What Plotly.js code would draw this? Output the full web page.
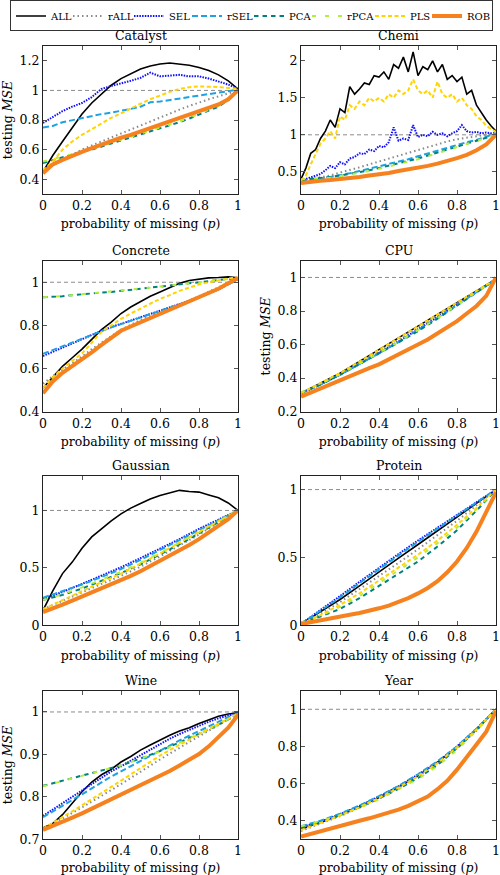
<!DOCTYPE html>
<html><head><meta charset="utf-8">
<script src="https://cdn.plot.ly/plotly-3.0.1.min.js"></script>
<style>html,body{margin:0;padding:0;background:#fff}</style>
</head><body><div id="chart" style="width:500px;height:875px"></div>
<script>
// ---------- data ----------
const X11 = [0,0.1,0.2,0.3,0.4,0.5,0.6,0.7,0.8,0.9,1];
const X21 = [0,0.05,0.1,0.15,0.2,0.25,0.3,0.35,0.4,0.45,0.5,0.55,0.6,0.65,0.7,0.75,0.8,0.85,0.9,0.95,1];
const X41 = [0,0.025,0.05,0.075,0.1,0.125,0.15,0.175,0.2,0.225,0.25,0.275,0.3,0.325,0.35,0.375,0.4,0.425,0.45,0.475,0.5,0.525,0.55,0.575,0.6,0.625,0.65,0.675,0.7,0.725,0.75,0.775,0.8,0.825,0.85,0.875,0.9,0.925,0.95,0.975,1];
const methods = ['ALL','rALL','SEL','rSEL','PCA','rPCA','PLS','ROB'];
const datasets = ['Catalyst','Chemi','Concrete','CPU','Gaussian','Protein','Wine','Year'];
const xTicks = [0,0.2,0.4,0.6,0.8,1];
const catTicks = [0.4,0.6,0.8,1,1.2];
const cheTicks = [0.5,1,1.5,2];
const conTicks = [0.4,0.6,0.8,1];
const cpuTicks = [0.2,0.4,0.6,0.8,1];
const gauTicks = [0,0.5,1];
const proTicks = [0,0.5,1];
const winTicks = [0.7,0.8,0.9,1];
const yeaTicks = [0.4,0.6,0.8,1];

// Catalyst
const cat_ALL  = [0.45,0.56,0.655,0.75,0.84,0.915,0.975,1.035,1.08,1.115,1.145,1.165,1.178,1.185,1.18,1.17,1.155,1.135,1.105,1.065,1.01];
const cat_rALL = [0.46,0.5,0.53,0.565,0.6,0.628,0.655,0.683,0.71,0.738,0.765,0.793,0.82,0.845,0.87,0.895,0.92,0.94,0.96,0.98,1.0];
const cat_SEL  = [0.78,0.82,0.86,0.89,0.915,0.955,1.01,1.03,1.045,1.065,1.085,1.12,1.095,1.1,1.105,1.095,1.095,1.08,1.06,1.04,1.01];
const cat_rSEL = [0.75,0.76,0.785,0.8,0.81,0.825,0.84,0.85,0.86,0.875,0.89,0.92,0.925,0.935,0.945,0.955,0.965,0.975,0.985,0.995,1.005];
const cat_PCA  = [0.51,0.53,0.55,0.565,0.585,0.6,0.62,0.64,0.665,0.685,0.705,0.725,0.745,0.765,0.785,0.81,0.835,0.86,0.89,0.935,1.0];
const cat_rPCA = [0.52,0.535,0.55,0.565,0.585,0.605,0.625,0.645,0.665,0.685,0.705,0.725,0.745,0.77,0.79,0.815,0.84,0.865,0.895,0.94,1.0];
const cat_PLS  = [0.46,0.52,0.6,0.655,0.7,0.74,0.78,0.815,0.845,0.88,0.91,0.94,0.967,0.99,1.01,1.022,1.027,1.027,1.023,1.017,1.01];
const cat_ROB  = [0.44,0.5,0.53,0.56,0.585,0.61,0.635,0.657,0.68,0.7,0.722,0.745,0.767,0.79,0.81,0.833,0.856,0.88,0.905,0.94,1.0];
// Chemi
const che_ALL  = [0.40,0.55,0.75,0.8,0.95,1.05,1.2,1.1,1.35,1.3,1.65,1.55,1.62,1.7,1.68,1.8,1.78,1.85,1.75,1.95,1.9,2.05,1.85,2.12,1.8,1.92,1.88,2.0,1.85,1.95,1.75,1.8,1.72,1.78,1.55,1.6,1.4,1.3,1.2,1.12,1.05];
const che_rALL = [0.38,0.4,0.42,0.45,0.49,0.52,0.56,0.6,0.64,0.68,0.72,0.76,0.8,0.84,0.88,0.91,0.94,0.96,0.98,1.0,1.02];
const che_SEL  = [0.38,0.4,0.42,0.45,0.47,0.52,0.58,0.55,0.63,0.6,0.68,0.7,0.75,0.74,0.8,0.78,0.85,0.83,0.9,1.1,0.92,0.95,0.93,1.13,0.97,1.0,0.98,1.04,1.0,1.02,0.98,1.02,1.05,1.13,1.05,1.03,1.04,1.02,1.03,1.02,1.02];
const che_rSEL = [0.38,0.39,0.41,0.43,0.45,0.48,0.51,0.54,0.57,0.6,0.64,0.67,0.71,0.75,0.79,0.83,0.87,0.9,0.93,0.97,1.02];
const che_PCA  = [0.39,0.4,0.41,0.43,0.45,0.47,0.5,0.52,0.55,0.58,0.61,0.64,0.68,0.72,0.76,0.8,0.84,0.88,0.92,0.96,1.0];
const che_rPCA = [0.4,0.4,0.41,0.42,0.44,0.46,0.48,0.51,0.54,0.57,0.6,0.63,0.67,0.71,0.75,0.79,0.83,0.87,0.91,0.95,1.0];
const che_PLS  = [0.38,0.45,0.6,0.75,0.88,0.95,1.05,0.95,1.25,1.2,1.4,1.35,1.45,1.4,1.5,1.45,1.5,1.45,1.55,1.5,1.6,1.55,1.6,1.75,1.6,1.55,1.6,1.5,1.72,1.55,1.5,1.55,1.45,1.5,1.4,1.35,1.25,1.2,1.12,1.08,1.04];
const che_ROB  = [0.35,0.37,0.38,0.39,0.4,0.415,0.43,0.45,0.465,0.485,0.51,0.53,0.555,0.58,0.61,0.645,0.685,0.73,0.79,0.87,1.0];
// Concrete
const con_ALL  = [0.51,0.56,0.61,0.65,0.69,0.735,0.78,0.815,0.855,0.885,0.912,0.935,0.955,0.975,0.995,1.008,1.015,1.02,1.022,1.025,1.02];
const con_rALL = [0.53,0.565,0.595,0.625,0.655,0.69,0.72,0.75,0.78,0.803,0.825,0.843,0.86,0.878,0.895,0.915,0.935,0.955,0.975,0.997,1.02];
const con_SEL  = [0.658,0.678,0.698,0.718,0.738,0.757,0.775,0.792,0.808,0.823,0.838,0.853,0.868,0.883,0.898,0.914,0.93,0.948,0.967,0.99,1.015];
const con_rSEL = [0.668,0.686,0.704,0.722,0.74,0.758,0.775,0.791,0.806,0.821,0.836,0.851,0.866,0.881,0.897,0.913,0.93,0.948,0.967,0.99,1.015];
const con_PCA  = [0.93,0.932,0.935,0.94,0.945,0.948,0.952,0.955,0.96,0.965,0.97,0.975,0.98,0.985,0.99,0.995,1.0,1.005,1.01,1.015,1.02];
const con_rPCA = [0.93,0.932,0.936,0.94,0.944,0.948,0.952,0.956,0.96,0.965,0.97,0.975,0.98,0.985,0.99,0.996,1.0,1.006,1.01,1.015,1.02];
const con_PLS  = [0.51,0.56,0.6,0.635,0.67,0.72,0.77,0.8,0.83,0.855,0.877,0.9,0.923,0.94,0.96,0.975,0.99,1.0,1.01,1.018,1.022];
const con_ROB  = [0.485,0.54,0.58,0.61,0.64,0.675,0.71,0.745,0.775,0.795,0.815,0.835,0.853,0.872,0.89,0.91,0.93,0.95,0.97,0.995,1.02];
// CPU
const cpu_ALL  = [0.31,0.37,0.43,0.5,0.57,0.64,0.71,0.78,0.85,0.92,0.99];
const cpu_rALL = [0.31,0.365,0.425,0.49,0.56,0.63,0.7,0.772,0.845,0.918,0.99];
const cpu_SEL  = [0.31,0.362,0.42,0.483,0.55,0.618,0.69,0.763,0.84,0.915,0.99];
const cpu_rSEL = [0.31,0.362,0.42,0.482,0.548,0.615,0.685,0.758,0.835,0.912,0.99];
const cpu_PCA  = [0.31,0.362,0.42,0.482,0.548,0.613,0.68,0.754,0.83,0.91,0.99];
const cpu_rPCA = [0.315,0.366,0.423,0.485,0.55,0.616,0.685,0.758,0.835,0.912,0.99];
const cpu_PLS  = [0.31,0.368,0.43,0.498,0.568,0.636,0.705,0.777,0.85,0.92,0.99];
const cpu_ROB  = [0.29,0.315,0.34,0.365,0.39,0.41,0.435,0.46,0.482,0.51,0.54,0.57,0.6,0.63,0.665,0.7,0.74,0.785,0.83,0.89,1.0];
// Gaussian
const gau_ALL  = [0.13,0.3,0.45,0.55,0.67,0.77,0.84,0.91,0.97,1.02,1.06,1.1,1.13,1.155,1.175,1.165,1.16,1.135,1.11,1.065,1.0];
const gau_rALL = [0.14,0.215,0.29,0.36,0.43,0.51,0.6,0.695,0.79,0.895,1.0];
const gau_SEL  = [0.23,0.29,0.36,0.43,0.505,0.585,0.665,0.75,0.84,0.92,1.0];
const gau_rSEL = [0.24,0.295,0.355,0.42,0.49,0.57,0.655,0.74,0.83,0.915,1.0];
const gau_PCA  = [0.22,0.265,0.32,0.385,0.455,0.53,0.615,0.705,0.8,0.9,1.0];
const gau_rPCA = [0.22,0.27,0.33,0.395,0.465,0.545,0.63,0.72,0.81,0.905,1.0];
const gau_PLS  = [0.14,0.22,0.3,0.375,0.45,0.535,0.625,0.72,0.815,0.91,1.0];
const gau_ROB  = [0.115,0.145,0.18,0.215,0.25,0.285,0.32,0.355,0.39,0.43,0.47,0.515,0.56,0.605,0.65,0.7,0.75,0.805,0.86,0.925,1.0];
// Protein
const pro_ALL  = [0.01,0.1,0.19,0.29,0.395,0.495,0.595,0.695,0.795,0.895,1.0];
const pro_rALL = [0.01,0.085,0.17,0.265,0.36,0.46,0.56,0.665,0.77,0.885,1.0];
const pro_SEL  = [0.01,0.11,0.215,0.32,0.425,0.525,0.625,0.72,0.815,0.91,1.0];
const pro_rSEL = [0.01,0.105,0.205,0.31,0.415,0.515,0.615,0.713,0.81,0.905,1.0];
const pro_PCA  = [0.02,0.065,0.12,0.2,0.29,0.38,0.47,0.58,0.7,0.845,1.0];
const pro_rPCA = [0.02,0.07,0.135,0.215,0.31,0.405,0.5,0.605,0.72,0.855,1.0];
const pro_PLS  = [0.01,0.075,0.15,0.235,0.33,0.425,0.52,0.625,0.74,0.865,1.0];
const pro_ROB  = [0.01,0.025,0.04,0.052,0.065,0.078,0.09,0.105,0.125,0.145,0.17,0.2,0.235,0.275,0.325,0.39,0.47,0.57,0.69,0.83,0.98];
// Wine
const win_ALL  = [0.727,0.737,0.758,0.785,0.812,0.835,0.852,0.865,0.882,0.895,0.91,0.922,0.934,0.945,0.955,0.963,0.973,0.982,0.99,0.995,0.998];
const win_rALL = [0.724,0.736,0.749,0.762,0.775,0.788,0.802,0.816,0.83,0.845,0.859,0.873,0.888,0.902,0.916,0.93,0.943,0.956,0.969,0.982,0.995];
const win_SEL  = [0.755,0.77,0.785,0.8,0.815,0.83,0.845,0.86,0.872,0.885,0.9,0.912,0.925,0.937,0.948,0.958,0.968,0.977,0.985,0.992,0.997];
const win_rSEL = [0.752,0.765,0.778,0.792,0.806,0.82,0.835,0.848,0.86,0.872,0.885,0.897,0.91,0.922,0.933,0.944,0.955,0.966,0.977,0.988,0.997];
const win_PCA  = [0.826,0.832,0.838,0.844,0.85,0.856,0.862,0.868,0.874,0.882,0.89,0.899,0.908,0.918,0.928,0.938,0.948,0.959,0.97,0.983,0.995];
const win_rPCA = [0.825,0.831,0.837,0.843,0.849,0.855,0.861,0.867,0.874,0.882,0.89,0.898,0.907,0.917,0.927,0.937,0.948,0.959,0.97,0.983,0.995];
const win_PLS  = [0.725,0.738,0.752,0.766,0.78,0.794,0.808,0.822,0.838,0.853,0.868,0.882,0.897,0.91,0.922,0.935,0.948,0.96,0.972,0.984,0.996];
const win_ROB  = [0.722,0.731,0.741,0.751,0.761,0.772,0.783,0.794,0.805,0.816,0.827,0.838,0.849,0.861,0.874,0.887,0.901,0.919,0.94,0.963,0.993];
// Year
const yea_ALL  = [0.355,0.39,0.43,0.475,0.525,0.58,0.643,0.715,0.795,0.89,1.0];
const yea_rALL = [0.345,0.383,0.425,0.47,0.52,0.576,0.64,0.71,0.79,0.885,1.0];
const yea_SEL  = [0.365,0.395,0.435,0.48,0.53,0.585,0.648,0.715,0.8,0.895,1.0];
const yea_rSEL = [0.37,0.4,0.438,0.482,0.532,0.587,0.65,0.72,0.8,0.895,1.0];
const yea_PCA  = [0.36,0.392,0.43,0.472,0.52,0.572,0.63,0.7,0.79,0.89,1.0];
const yea_rPCA = [0.37,0.397,0.43,0.47,0.515,0.568,0.625,0.695,0.78,0.885,1.0];
const yea_PLS  = [0.35,0.387,0.428,0.473,0.523,0.578,0.64,0.71,0.795,0.89,1.0];
const yea_ROB  = [0.315,0.33,0.345,0.36,0.373,0.386,0.4,0.413,0.427,0.443,0.46,0.48,0.503,0.53,0.57,0.615,0.675,0.74,0.81,0.88,0.99];

// ---------- assembly ----------
const seriesByPanel = [
  [cat_ALL,cat_rALL,cat_SEL,cat_rSEL,cat_PCA,cat_rPCA,cat_PLS,cat_ROB],
  [che_ALL,che_rALL,che_SEL,che_rSEL,che_PCA,che_rPCA,che_PLS,che_ROB],
  [con_ALL,con_rALL,con_SEL,con_rSEL,con_PCA,con_rPCA,con_PLS,con_ROB],
  [cpu_ALL,cpu_rALL,cpu_SEL,cpu_rSEL,cpu_PCA,cpu_rPCA,cpu_PLS,cpu_ROB],
  [gau_ALL,gau_rALL,gau_SEL,gau_rSEL,gau_PCA,gau_rPCA,gau_PLS,gau_ROB],
  [pro_ALL,pro_rALL,pro_SEL,pro_rSEL,pro_PCA,pro_rPCA,pro_PLS,pro_ROB],
  [win_ALL,win_rALL,win_SEL,win_rSEL,win_PCA,win_rPCA,win_PLS,win_ROB],
  [yea_ALL,yea_rALL,yea_SEL,yea_rSEL,yea_PCA,yea_rPCA,yea_PLS,yea_ROB]
];
const yTickSets = [catTicks,cheTicks,conTicks,cpuTicks,gauTicks,proTicks,winTicks,yeaTicks];
const yRanges = [[0.3,1.3],[0.2,2.2],[0.4,1.1],[0.2,1.1],[0,1.3],[0,1.1],[0.7,1.05],[0.3,1.1]];
const showYTitle = [true,false,false,true,false,false,true,false];

const lineStyles = [
  {color:'#000000', width:1.6, dash:'solid'},
  {color:'#8a8a8a', width:2,   dash:'1.5px,3px'},
  {color:'#1010ff', width:2,   dash:'1.5px,1.2px'},
  {color:'#1ea2e2', width:2,   dash:'6px,3px'},
  {color:'#00807e', width:2,   dash:'4.5px,4px'},
  {color:'#b2ef3a', width:2,   dash:'4px,9px'},
  {color:'#ffd400', width:2,   dash:'4px,2.5px'},
  {color:'#f5821f', width:4,   dash:'solid'}
];
const legendWidths = [12,16,13,17,13,18,12,20];

const FONT = "'DejaVu Serif', 'Liberation Serif', serif";
const colDom = [[0.086,0.476],[0.602,0.992]];
const rowDom = [[0.7783,0.9474],[0.5295,0.7021],[0.2854,0.456],[0.0408,0.2106]];

const traces = [];
const layout = {
  width:500, height:875,
  margin:{l:0,r:0,t:0,b:0},
  paper_bgcolor:'#fff', plot_bgcolor:'#fff',
  font:{family:FONT, size:12.5, color:'#000'},
  showlegend:true,
  legend:{orientation:'h', x:0.02, xanchor:'left', y:0.9995, yanchor:'top',
          bordercolor:'#333', borderwidth:1, bgcolor:'#fff',
          font:{family:FONT, size:10, color:'#000'}, itemwidth:30, traceorder:'normal',
          itemclick:false},
  annotations:[], shapes:[]
};

for (let p = 0; p < 8; p++) {
  const sfx = p === 0 ? '' : String(p + 1);
  const col = p % 2, row = Math.floor(p / 2);
  seriesByPanel[p].forEach((ys, m) => {
    const xs = ys.length === 11 ? X11 : (ys.length === 21 ? X21 : X41);
    const st = lineStyles[m];
    traces.push({
      type:'scatter', mode:'lines', x:xs, y:ys, name:methods[m],
      xaxis:'x'+sfx, yaxis:'y'+sfx, legendgroup:methods[m],
      showlegend: p === 0, legendwidth: legendWidths[m],
      line:{color:st.color, width:st.width, dash:st.dash}, hoverinfo:'skip'
    });
  });
  const axCommon = {
    showline:true, mirror:'ticks', linecolor:'#222', linewidth:1,
    ticks:'inside', ticklen:4, tickcolor:'#555', tickwidth:1,
    showgrid:false, zeroline:false, tickfont:{family:FONT, size:12.5}
  };
  layout['xaxis'+sfx] = Object.assign({}, axCommon, {
    domain:colDom[col], range:[0,1], tickmode:'array', tickvals:xTicks,
    anchor:'y'+sfx,
    title:{text:'probability of missing (<i>p</i>)', font:{family:FONT, size:12.5}, standoff:7}
  });
  layout['yaxis'+sfx] = Object.assign({}, axCommon, {
    domain:rowDom[row], range:yRanges[p], tickmode:'array', tickvals:yTickSets[p],
    anchor:'x'+sfx,
    title: showYTitle[p] ? {text:'testing <i>MSE</i>', font:{family:FONT, size:12.5}, standoff:4} : {text:''}
  });
  layout.annotations.push({
    text:datasets[p], xref:'x'+sfx+' domain', yref:'y'+sfx+' domain',
    x:0.5, y:1, xanchor:'center', yanchor:'bottom', yshift:1, showarrow:false,
    font:{family:FONT, size:12.5, color:'#000'}
  });
  layout.shapes.push({
    type:'line', xref:'x'+sfx+' domain', yref:'y'+sfx, x0:0, x1:1, y0:1, y1:1,
    line:{color:'#8c8c8c', width:1, dash:'4px,3px'}, layer:'below'
  });
}

Plotly.newPlot('chart', traces, layout, {displayModeBar:false, staticPlot:true});
</script>
</body></html>
